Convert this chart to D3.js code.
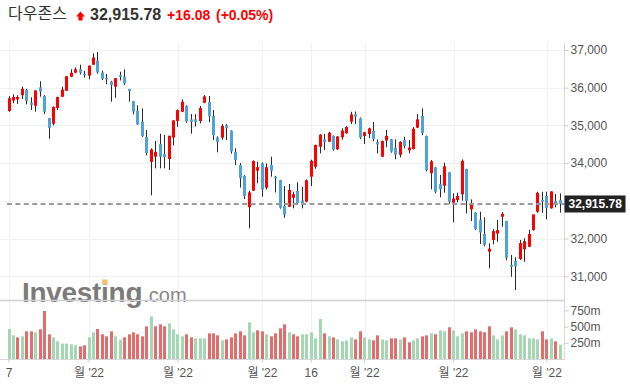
<!DOCTYPE html>
<html><head><meta charset="utf-8">
<script src="https://cdn.jsdelivr.net/npm/d3@7"></script>
<style>
html,body{margin:0;padding:0;background:#fff;}
svg{display:block;font-family:"Liberation Sans",Arial,"Noto Sans CJK KR",sans-serif;}
</style></head><body>
<svg id="chart" width="630" height="384"></svg>
<script>
const dates = [
"2021-12-07","2021-12-08","2021-12-09","2021-12-10","2021-12-13","2021-12-14","2021-12-15","2021-12-16","2021-12-17","2021-12-20",
"2021-12-21","2021-12-22","2021-12-23","2021-12-27","2021-12-28","2021-12-29","2021-12-30","2021-12-31",
"2022-01-03","2022-01-04","2022-01-05","2022-01-06","2022-01-07","2022-01-10","2022-01-11","2022-01-12","2022-01-13","2022-01-14",
"2022-01-18","2022-01-19","2022-01-20","2022-01-21","2022-01-24","2022-01-25","2022-01-26","2022-01-27","2022-01-28","2022-01-31",
"2022-02-01","2022-02-02","2022-02-03","2022-02-04","2022-02-07","2022-02-08","2022-02-09","2022-02-10","2022-02-11","2022-02-14",
"2022-02-15","2022-02-16","2022-02-17","2022-02-18","2022-02-22","2022-02-23","2022-02-24","2022-02-25","2022-02-28",
"2022-03-01","2022-03-02","2022-03-03","2022-03-04","2022-03-07","2022-03-08","2022-03-09","2022-03-10","2022-03-11","2022-03-14",
"2022-03-15","2022-03-16","2022-03-17","2022-03-18","2022-03-21","2022-03-22","2022-03-23","2022-03-24","2022-03-25","2022-03-28",
"2022-03-29","2022-03-30","2022-03-31",
"2022-04-01","2022-04-04","2022-04-05","2022-04-06","2022-04-07","2022-04-08","2022-04-11","2022-04-12","2022-04-13","2022-04-14",
"2022-04-18","2022-04-19","2022-04-20","2022-04-21","2022-04-22","2022-04-25","2022-04-26","2022-04-27","2022-04-28","2022-04-29",
"2022-05-02","2022-05-03","2022-05-04","2022-05-05","2022-05-06","2022-05-09","2022-05-10","2022-05-11","2022-05-12","2022-05-13",
"2022-05-16","2022-05-17","2022-05-18","2022-05-19","2022-05-20","2022-05-23","2022-05-24","2022-05-25","2022-05-26","2022-05-27",
"2022-05-31","2022-06-01","2022-06-02","2022-06-03","2022-06-06"];

const open = [35380,35660,35690,35800,35940,35600,35520,36010,35780,35196,
35045,35461,35761,35920,36290,36400,36488,36370,
36320,36610,36720,36400,36260,36160,36027,36330,36292,35965,
35647,35390,35100,34690,34030,34170,34506,34240,34108,34680,
35116,35363,35514,35160,35160,35116,35600,35620,35250,34680,
34674,35000,34860,34294,33950,33657,32830,33268,33800,
33990,33347,33950,33640,33551,32861,32843,33080,33259,33010,
32976,33640,33904,34435,34630,34568,34718,34365,34684,34790,
35098,35290,35188,
34718,34772,34859,34560,34170,34600,34630,34410,34220,34612,
34340,34374,34939,35249,34718,33730,33890,33445,33400,33755,
32950,33021,33170,33843,32774,32684,32490,32119,31650,31960,
32130,32578,32463,31300,31402,31455,31712,31782,32225,32711,
33021,33127,32800,32994,33020];

const high = [35780,35825,35800,36027,35970,35745,35930,36170,35800,35200,
35500,35760,36027,36310,36488,36540,36610,36451,
36590,36912,36947,36450,36363,36180,36260,36425,36488,35970,
35650,35533,35452,34878,34392,34586,34780,34745,34725,35140,
35420,35692,35530,35302,35300,35514,35806,35780,35408,34710,
35037,35040,34870,34392,34000,33680,33268,34070,34037,
34020,33993,34170,33660,33560,33392,33445,33240,33490,33374,
33570,34090,34490,34770,34772,34830,34730,34710,34923,34980,
35363,35370,35210,
34830,34940,35090,34630,34600,34878,34640,34630,34580,34700,
34612,34960,35302,35452,34730,34082,33900,33684,34010,33760,
33198,33215,34100,33850,33038,32700,32710,32561,31872,32250,
32490,32702,32470,31562,31500,31960,32004,32225,32640,33240,
33241,33241,33250,33180,33198];

const low = [35360,35586,35570,35700,35560,35408,35363,35761,35300,34647,
35000,35408,35750,35910,36280,36380,36350,36270,
36223,36600,36371,36200,36090,35628,35735,36190,36071,35628,
35290,35018,34692,34206,33145,33861,33861,33861,33816,34472,
34965,35350,35070,34780,34970,35055,35590,35082,34612,34286,
34620,34612,34250,33949,33348,33047,32270,33260,33463,
33108,33300,33639,33220,32790,32551,32840,32800,32900,32800,
32960,33392,33850,34259,34347,34560,34329,34350,34620,34780,
35037,35040,34639,
34506,34660,34580,34259,34160,34420,34276,34100,34150,34390,
34259,34360,34930,34740,33780,33304,33200,33092,33215,32920,
32429,32960,33002,32667,32463,32225,31853,31790,31209,31846,
31915,32312,31420,30986,30633,31430,31384,31770,32210,32680,
32684,32508,32790,32826,32684];

const close = [35719.43,35754.75,35754.69,35970.99,35650.95,35544.18,35927.43,35897.64,35365.44,34932.16,
35492.70,35753.89,35950.56,36302.38,36398.21,36488.63,36398.08,36338.30,
36585.06,36799.65,36407.11,36236.47,36231.66,36068.87,36252.02,36290.32,36113.62,35911.81,
35368.47,35028.65,34715.39,34265.37,34364.50,34297.73,34168.09,34160.78,34725.47,35131.86,
35405.24,35629.33,35111.16,35089.74,35091.13,35462.78,35768.06,35241.59,34738.06,34566.17,
34988.84,34934.27,34312.03,34079.18,33596.61,33131.76,33223.83,34058.75,33892.60,
33294.95,33891.35,33794.66,33614.80,32817.38,32632.64,33286.25,33174.07,32944.19,32945.24,
33544.34,34063.10,34480.76,34754.93,34552.99,34807.46,34358.50,34707.94,34861.24,34955.89,
35294.19,35228.81,34678.35,
34818.27,34921.88,34641.18,34496.51,34583.57,34721.12,34308.08,34220.36,34564.59,34451.23,
34411.69,34911.20,35160.79,34792.76,33811.40,34049.46,33240.18,33301.93,33916.39,32977.21,
33061.50,33128.79,34061.06,32997.97,32899.37,32245.70,32160.74,31834.11,31730.30,32196.66,
32223.42,32654.59,31490.07,31253.13,31261.90,31880.24,31928.62,32120.28,32637.19,33212.96,
32990.12,32813.23,33248.28,32899.70,32915.78];

// volume in millions
const volume = [463,365,334,350,427,427,412,458,741,381,
334,273,237,237,226,211,195,211,
334,412,463,381,350,427,350,298,334,381,
412,381,350,504,658,504,535,504,550,458,
381,350,381,334,319,319,319,396,396,365,
288,303,334,396,427,365,566,412,442,
427,381,350,396,473,535,412,381,350,381,
381,412,319,617,396,350,334,303,273,288,
334,303,427,
334,303,288,365,303,288,319,319,303,334,
257,288,319,350,365,396,381,442,427,489,
442,350,396,427,412,458,427,412,504,365,
303,365,427,489,458,381,365,319,319,303,
427,303,319,273,221];

const priceGridTicks = [31000,32000,33000,34000,35000,36000,37000];
const priceLabelTicks = [31000,32000,34000,35000,36000,37000];
const volumeTicks = [250,500,750];
const volumeTickLabels = ["250m","500m","750m"];
const xTickDates = ["2021-12-07","2022-01-03","2022-02-01","2022-03-01","2022-03-16","2022-04-01","2022-05-02","2022-06-01"];
const xTickLabels = ["7","월 '22","월 '22","월 '22","16","월 '22","월 '22","월 '22"];

const titleName = "다우존스";
const lastPrice = 32915.78;
const changeText = "+16.08";
const changePctText = "(+0.05%)";

const plotLeft = 0, plotRight = 564.5, plotTop = 43, sepY = 300.5, volBase = 359;
const UP = "#fe0000", DOWN = "#4fa3d9", WICK = "#2b2b2b";
const VUP = "#a4d8b3", VDOWN = "#e36d6d";
const GRID = "#f1f1f1", TXT = "#555";

const svg = d3.select("#chart");

const x = d3.scaleBand().domain(dates).range([6.8, 562.4]);
const y = d3.scaleLinear().domain([31000, 37000]).range([276.2, 50]);
const yv = d3.scaleLinear().domain([0, 750]).range([volBase, 310.4]);
const cx = d => x(d) + x.bandwidth() / 2;

// grid
const grid = svg.append("g");
grid.selectAll("line.h").data(priceGridTicks).join("line")
  .attr("x1", plotLeft).attr("x2", plotRight)
  .attr("y1", d => Math.round(y(d)) + 0.5).attr("y2", d => Math.round(y(d)) + 0.5)
  .attr("stroke", GRID);
grid.selectAll("line.v").data(xTickDates).join("line")
  .attr("x1", d => Math.round(cx(d)) + 0.5).attr("x2", d => Math.round(cx(d)) + 0.5)
  .attr("y1", plotTop).attr("y2", volBase)
  .attr("stroke", GRID);

// watermark logo
const logo = svg.append("g");
const logoText = logo.append("text").attr("x", 22).attr("y", 302)
  .attr("font-size", 28).attr("font-weight", "bold").attr("fill", "#7b7b7b")
  .attr("letter-spacing", -0.3).text("Investing");
const lw = logoText.node().getComputedTextLength();
try {
  const pre = logoText.node().getSubStringLength(0, 6);
  const iw = logoText.node().getSubStringLength(6, 1);
  logo.append("rect").attr("x", 22 + pre + iw/2 - 2.6).attr("y", 279.5).attr("width", 5.2).attr("height", 5)
    .attr("fill", "#f5bf6b");
} catch(e) {}
logo.append("text").attr("x", 22 + lw + 1).attr("y", 302)
  .attr("font-size", 20).attr("fill", "#888").text(".com");

// volume bars
svg.append("g").selectAll("rect").data(dates).join("rect")
  .attr("x", d => Math.round(cx(d) - 1.5))
  .attr("width", 3)
  .attr("y", (d, i) => yv(volume[i]))
  .attr("height", (d, i) => volBase - yv(volume[i]))
  .attr("fill", (d, i) => (i === 0 || close[i] >= close[i-1]) ? VUP : VDOWN);

// candles
const cg = svg.append("g");
cg.selectAll("line").data(dates).join("line")
  .attr("x1", d => Math.round(cx(d) - 1.5) + 1.5)
  .attr("x2", d => Math.round(cx(d) - 1.5) + 1.5)
  .attr("y1", (d, i) => y(high[i])).attr("y2", (d, i) => y(low[i]))
  .attr("stroke", WICK).attr("stroke-width", 1);
cg.selectAll("rect").data(dates).join("rect")
  .attr("x", d => Math.round(cx(d) - 1.5))
  .attr("width", 3)
  .attr("y", (d, i) => y(Math.max(open[i], close[i])))
  .attr("height", (d, i) => Math.max(1.5, Math.abs(y(open[i]) - y(close[i]))))
  .attr("fill", (d, i) => close[i] >= open[i] ? UP : DOWN);

// panel separator, baseline and right axis line
svg.append("line").attr("x1", 0).attr("x2", plotRight).attr("y1", sepY).attr("y2", sepY)
  .attr("stroke", "#cfcfd4").attr("stroke-width", 1.3);
svg.append("line").attr("x1", 0).attr("x2", plotRight).attr("y1", volBase + 0.5).attr("y2", volBase + 0.5)
  .attr("stroke", "#d6d6d6");
svg.append("line").attr("x1", plotRight).attr("x2", plotRight).attr("y1", plotTop).attr("y2", volBase + 1)
  .attr("stroke", "#d6d6dc");

// price axis
const yAxis = svg.append("g").attr("transform", `translate(${plotRight},0)`)
  .call(d3.axisRight(y).tickValues(priceLabelTicks).tickFormat(d3.format(",")).tickSize(4).tickPadding(2));
yAxis.select(".domain").remove();
yAxis.selectAll("line").attr("stroke", "#ccc");
yAxis.selectAll("text").attr("fill", TXT).attr("font-size", 12)
  .attr("font-family", "'Liberation Sans', Arial, sans-serif");

// volume axis
const vAxis = svg.append("g").attr("transform", `translate(${plotRight},0)`)
  .call(d3.axisRight(yv).tickValues(volumeTicks).tickFormat((d, i) => volumeTickLabels[i]).tickSize(4).tickPadding(2));
vAxis.select(".domain").remove();
vAxis.selectAll("line").attr("stroke", "#ccc");
vAxis.selectAll("text").attr("fill", TXT).attr("font-size", 12)
  .attr("font-family", "'Liberation Sans', Arial, sans-serif");

// x axis
const xAxis = svg.append("g").attr("transform", `translate(0,${volBase + 0.5})`)
  .call(d3.axisBottom(x).tickValues(xTickDates).tickFormat((d, i) => xTickLabels[i]).tickSize(3).tickPadding(6));
xAxis.select(".domain").remove();
xAxis.selectAll("line").attr("stroke", "#ccc");
xAxis.selectAll("text").attr("fill", TXT).attr("font-size", 12)
  .attr("font-family", "'Liberation Sans', Arial, 'Noto Sans CJK KR', sans-serif");

// last price dashed line + label
const ly = y(lastPrice);
svg.append("line").attr("x1", 7).attr("x2", plotRight).attr("y1", ly).attr("y2", ly)
  .attr("stroke", "#9a9a9a").attr("stroke-width", 2).attr("stroke-dasharray", "5,3.4");
svg.append("rect").attr("x", plotRight).attr("y", ly - 8.5).attr("width", 61).attr("height", 17)
  .attr("fill", "#222");
svg.append("text").attr("x", plotRight + 4).attr("y", ly + 4.5)
  .attr("font-size", 12).attr("font-weight", "bold").attr("fill", "#fff")
  .text(d3.format(",.2f")(lastPrice));

// header
svg.append("text").attr("x", 8).attr("y", 19).attr("font-size", 16).attr("fill", "#333")
  .attr("font-family", "'Noto Sans CJK KR', sans-serif").text(titleName);
svg.append("path").attr("d", "M76,16.5 L80.5,11.5 L85,16.5 L82.6,16.5 L82.6,20.5 L78.4,20.5 L78.4,16.5 Z").attr("fill", UP);
svg.append("text").attr("x", 90).attr("y", 19.5).attr("font-size", 16).attr("font-weight", "bold").attr("fill", "#333")
  .text(d3.format(",.2f")(lastPrice));
svg.append("text").attr("x", 167).attr("y", 19.5).attr("font-size", 14).attr("font-weight", "bold").attr("fill", UP)
  .text(changeText);
svg.append("text").attr("x", 216).attr("y", 19.5).attr("font-size", 14).attr("font-weight", "bold").attr("fill", UP)
  .text(changePctText);
</script>
</body></html>
